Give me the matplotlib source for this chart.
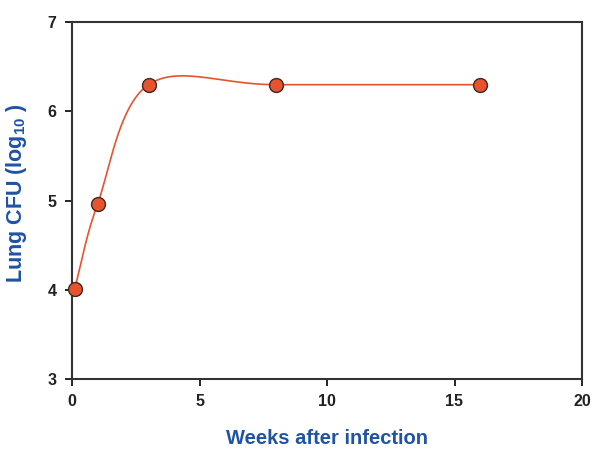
import numpy as np
import matplotlib.pyplot as plt

plt.rcParams['font.family'] = ['Liberation Sans', 'DejaVu Sans']
plt.rcParams['mathtext.fontset'] = 'custom'
plt.rcParams['mathtext.bf'] = 'Liberation Sans:bold'
plt.rcParams['mathtext.rm'] = 'Liberation Sans:bold'
plt.rcParams['mathtext.default'] = 'bf'

# data
weeks = [0.1, 1, 3, 8, 16]
lung_cfu = [4.01, 4.96, 6.30, 6.30, 6.30]
xticks = [0, 5, 10, 15, 20]
yticks = [3, 4, 5, 6, 7]

line_col = '#e8532f'
label_col = '#1f53a3'


def smooth_curve(x, y, n=60):
    # Catmull-Rom style smoothed line (like a spreadsheet "smoothed line")
    p = np.column_stack([x, y]).astype(float)
    p = np.vstack([2 * p[0] - p[1], p, 2 * p[-1] - p[-2]])
    t = np.linspace(0, 1, n)[:, None]
    h00 = 2 * t**3 - 3 * t**2 + 1
    h10 = t**3 - 2 * t**2 + t
    h01 = -2 * t**3 + 3 * t**2
    h11 = t**3 - t**2
    segs = []
    for i in range(1, len(p) - 2):
        m0 = (p[i + 1] - p[i - 1]) / 2
        m1 = (p[i + 2] - p[i]) / 2
        segs.append(h00 * p[i] + h10 * m0 + h01 * p[i + 1] + h11 * m1)
    c = np.vstack(segs)
    return c[:, 0], c[:, 1]


xs, ys = smooth_curve(weeks, lung_cfu)

fig = plt.figure(figsize=(6, 4.63), dpi=100)
ax = fig.add_axes([0.12, 0.181, 0.85, 0.771])
ax.plot(xs, ys, color=line_col, lw=1.2, zorder=2)
ax.plot(weeks, lung_cfu, 'o', color=line_col, mec='#3a2a22', mew=1.0,
        ms=10, zorder=3, clip_on=False)

ax.set_xlim(0, 20)
ax.set_ylim(3, 7)
ax.set_xticks(xticks)
ax.set_yticks(yticks)
ax.tick_params(direction='out', length=5, width=1.2, labelsize=11.5, pad=6)
for lbl in ax.get_xticklabels() + ax.get_yticklabels():
    lbl.set_fontweight('bold')
    lbl.set_color('#222222')
for s in ax.spines.values():
    s.set_linewidth(1.5)
    s.set_color('#333333')

ax.set_xlabel('Weeks after infection', fontsize=14.5, fontweight='bold',
              color=label_col, labelpad=14)
ax.set_ylabel('Lung CFU (log$_{10}$ )', fontsize=15.5, fontweight='bold',
              color=label_col)
ax.yaxis.set_label_coords(-0.085, 0.52)

fig.savefig('out.png', dpi=100)
